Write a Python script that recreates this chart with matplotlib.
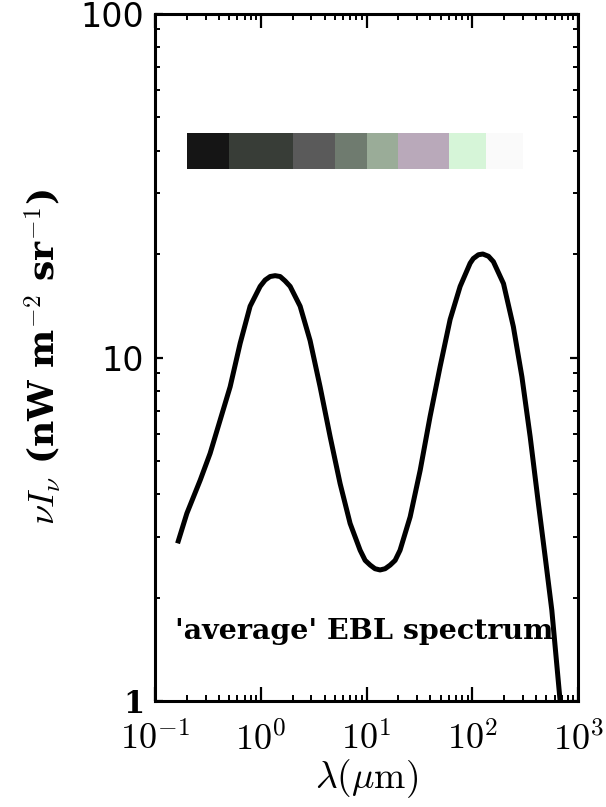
import matplotlib
matplotlib.use("Agg")
import matplotlib.pyplot as plt
from matplotlib.ticker import LogLocator, NullFormatter, FixedLocator

plt.rcParams['mathtext.fontset'] = 'cm'

# EBL spectrum
wavelength = [0.163, 0.1995, 0.267, 0.331, 0.412, 0.512, 0.637, 0.791, 0.984, 1.097,
              1.223, 1.364, 1.521, 1.694, 1.891, 2.35, 2.92, 3.63, 4.52, 5.61,
              6.98, 8.68, 9.68, 10.8, 12.0, 13.4, 14.96, 16.7, 18.6, 20.7,
              25.8, 32.1, 39.8, 49.5, 61.6, 76.6, 95.2, 102, 114, 125.6,
              142, 158, 197, 244, 294, 352, 421, 488, 564, 676, 720]
intensity = [2.88, 3.52, 4.40, 5.26, 6.58, 8.22, 11.0, 14.1, 16.1, 16.8,
             17.2, 17.3, 17.2, 16.7, 16.1, 14.1, 11.2, 8.22, 5.88, 4.30,
             3.29, 2.75, 2.57, 2.49, 2.43, 2.41, 2.43, 2.49, 2.57, 2.75,
             3.44, 4.70, 6.73, 9.40, 12.9, 16.1, 18.8, 19.4, 19.9, 20.0,
             19.7, 19.0, 16.4, 12.3, 8.79, 5.88, 3.76, 2.63, 1.84, 1.0, 0.85]

# colour bands
band_edges = [0.2, 0.5, 2, 5, 10, 20, 60, 135, 300]
band_colors = ['#151515', '#383d37', '#5a5a5a', '#6f7b6f', '#9aac98',
               '#b9a9ba', '#d6f5d8', '#fafafa']
band_ylow, band_yhigh = 35.3, 45.1

xticks = [0.1, 1, 10, 100, 1000]
xticklabels = [r'$10^{-1}$', r'$10^{0}$', r'$10^{1}$', r'$10^{2}$', r'$10^{3}$']
yticks = [1, 10, 100]
yticklabels = ['1', '10', '100']

fig = plt.figure(figsize=(6.06, 8.07), dpi=100)
ax = fig.add_axes([0.256, 0.131, 0.698, 0.852])
ax.set_xscale('log')
ax.set_yscale('log')
ax.set_xlim(0.1, 1000)
ax.set_ylim(1, 100)

for i, c in enumerate(band_colors):
    ax.fill_between([band_edges[i], band_edges[i + 1]], band_ylow, band_yhigh,
                    color=c, linewidth=0, zorder=1)

ax.plot(wavelength, intensity, color='black', lw=3.6, solid_capstyle='butt',
        solid_joinstyle='round', zorder=3)

ax.text(0.154, 1.6, "'average' EBL spectrum", fontsize=20.5, fontweight='bold',
        family='DejaVu Serif', va='center', ha='left', zorder=2)

for s in ax.spines.values():
    s.set_linewidth(2.2)

ax.xaxis.set_major_locator(FixedLocator(xticks))
ax.set_xticklabels(xticklabels)
ax.xaxis.set_minor_locator(LogLocator(base=10, subs=range(2, 10), numticks=20))
ax.xaxis.set_minor_formatter(NullFormatter())
ax.yaxis.set_major_locator(FixedLocator(yticks))
ax.set_yticklabels(yticklabels)
ax.yaxis.set_minor_locator(LogLocator(base=10, subs=range(2, 10), numticks=20))
ax.yaxis.set_minor_formatter(NullFormatter())

ax.tick_params(axis='x', which='major', direction='in', length=10, width=1.6,
               top=True, bottom=True, labelsize=26, pad=15)
ax.tick_params(axis='x', which='minor', direction='in', length=4.3, width=1.4,
               top=True, bottom=True)
ax.tick_params(axis='y', which='major', direction='in', length=5.8, width=1.6,
               left=True, right=True, labelsize=24, pad=8)
ax.tick_params(axis='y', which='minor', direction='in', length=3.6, width=1.4,
               left=True, right=True)

for lab in ax.get_yticklabels():
    if lab.get_text() == '1':
        lab.set_family('DejaVu Serif')
        lab.set_fontweight('bold')
        lab.set_fontsize(22)
    else:
        lab.set_family('DejaVu Sans')

ax.set_xlabel(r'$\lambda(\mu\mathrm{m})$', fontsize=27, labelpad=0)
ax.set_ylabel(r'$\nu I_\nu$ (nW m$^{-2}$ sr$^{-1}$)', fontsize=26,
              family='DejaVu Serif', fontweight='bold', labelpad=12)

fig.savefig('out.png', dpi=100)
